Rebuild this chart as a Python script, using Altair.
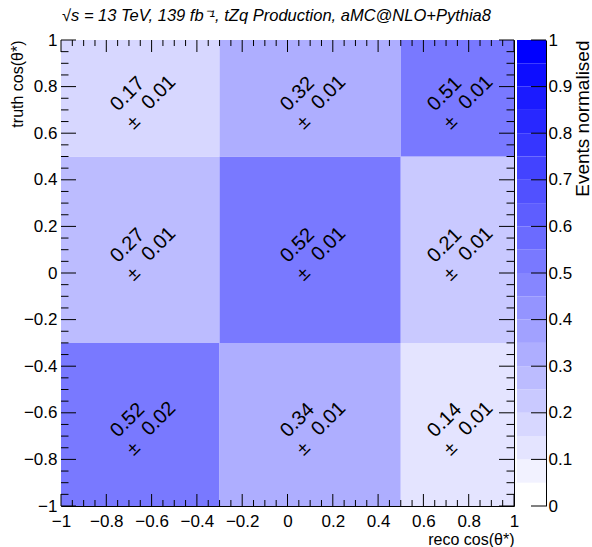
import altair as alt
import pandas as pd
import numpy as np

# ---------------- data ----------------
reco_edges = [-1.0, -0.3, 0.5, 1.0]
truth_edges = [-1.0, -0.3, 0.5, 1.0]
# rows: truth bins (bottom -> top), columns: reco bins (left -> right)
values = [
    [0.52, 0.34, 0.14],
    [0.27, 0.52, 0.21],
    [0.17, 0.32, 0.51],
]
errors = [
    [0.02, 0.01, 0.01],
    [0.01, 0.01, 0.01],
    [0.01, 0.01, 0.01],
]
major_ticks = [-1, -0.8, -0.6, -0.4, -0.2, 0, 0.2, 0.4, 0.6, 0.8, 1]
minor_ticks = [round(v, 2) for v in np.arange(-1, 1.0001, 0.05)
               if round(v, 2) not in [round(m, 2) for m in major_ticks]]
cbar_ticks = [0, 0.1, 0.2, 0.3, 0.4, 0.5, 0.6, 0.7, 0.8, 0.9, 1]
n_levels = 20
cbar_lo = [round(i / n_levels, 2) for i in range(n_levels)]
cbar_hi = [round((i + 1) / n_levels, 2) for i in range(n_levels)]

title_text = "√s = 13 TeV, 139 fb⁻¹, tZq Production, aMC@NLO+Pythia8"
x_title = "reco cos(θ*)"
y_title = "truth cos(θ*)"
z_title = "Events normalised"

# ---------------- tables ----------------
rows = []
for i in range(3):
    for j in range(3):
        rows.append(dict(
            xlo=reco_edges[j], xhi=reco_edges[j + 1],
            ylo=truth_edges[i], yhi=truth_edges[i + 1],
            xc=(reco_edges[j] + reco_edges[j + 1]) / 2,
            yc=(truth_edges[i] + truth_edges[i + 1]) / 2,
            value=values[i][j], err=errors[i][j],
            vlabel=f"{values[i][j]:.2f}", elabel=f"{errors[i][j]:.2f}", pm="±",
        ))
cells = pd.DataFrame(rows)
major_df = pd.DataFrame({"t": major_ticks})
minor_df = pd.DataFrame({"t": minor_ticks})
cbar_df = pd.DataFrame({"lo": cbar_lo, "hi": cbar_hi,
                        "mid": [(a + b) / 2 for a, b in zip(cbar_lo, cbar_hi)]})
cbar_tick_df = pd.DataFrame({"t": cbar_ticks})
title_df = pd.DataFrame({"t": [title_text]})

# ---------------- style ----------------
FONT = "Liberation Sans"
W, H = 453, 466
CW = 29
palette = []
for i in range(n_levels):
    c = int(round(255 * (1 - i / (n_levels - 1))))
    palette.append(f"#{c:02x}{c:02x}ff")
thresholds = [round((i + 1) / n_levels, 2) for i in range(n_levels - 1)]
color_scale = alt.Scale(type="threshold", domain=thresholds, range=palette)

xscale = alt.Scale(domain=[-1, 1], nice=False, zero=False)
yscale = alt.Scale(domain=[-1, 1], nice=False, zero=False)
zscale = alt.Scale(domain=[0, 1], nice=False, zero=False)

common_axis = dict(values=major_ticks, format=".1~f", ticks=False, domain=False, grid=False,
                   labelFont=FONT, labelFontSize=17, labelColor="black",
                   labelOverlap=False, labelFlush=False, labelBound=False,
                   titleFont=FONT, titleFontSize=16, titleFontWeight="normal",
                   titleColor="black", titleAlign="right")
xaxis = alt.Axis(title=x_title, labelPadding=7, titleX=W, titleY=38,
                 titleBaseline="alphabetic", titleAngle=0, **common_axis)
yaxis = alt.Axis(title=y_title, labelPadding=4, titleX=-36, titleY=0,
                 titleBaseline="bottom", titleAngle=270, **common_axis)

X = lambda f: alt.X(f, scale=xscale, axis=xaxis)
Y = lambda f: alt.Y(f, scale=yscale, axis=yaxis)

rects = alt.Chart(cells).mark_rect(strokeWidth=0).encode(
    x=X("xlo:Q"), x2="xhi:Q", y=Y("ylo:Q"), y2="yhi:Q",
    color=alt.Color("value:Q", scale=color_scale, legend=None),
)

def txt(field, dx, dy, size):
    return alt.Chart(cells).mark_text(
        angle=315, align="center", baseline="middle", dx=dx, dy=dy,
        font=FONT, fontSize=size, color="black",
    ).encode(x=X("xc:Q"), y=Y("yc:Q"), text=f"{field}:N")

t_val = txt("vlabel", -6, -12, 20)
t_pm = txt("pm", -22, 12, 19)
t_err = txt("elabel", 17, 9, 20)

def xrule(df, y0, y1):
    return alt.Chart(df).mark_rule(color="black", strokeWidth=1).encode(
        x=X("t:Q"), y=alt.value(y0), y2=alt.value(y1))

def yrule(df, x0, x1):
    return alt.Chart(df).mark_rule(color="black", strokeWidth=1).encode(
        y=Y("t:Q"), x=alt.value(x0), x2=alt.value(x1))

ticks = [
    xrule(major_df, H, H - 12), xrule(minor_df, H, H - 6),
    xrule(major_df, 0, 12), xrule(minor_df, 0, 6),
    yrule(major_df, 0, 15), yrule(minor_df, 0, 7.5),
    yrule(major_df, W, W - 15), yrule(minor_df, W, W - 7.5),
]

title_mark = alt.Chart(title_df).mark_text(
    align="left", baseline="alphabetic", font=FONT, fontSize=16.5, fontStyle="italic",
    color="black",
).encode(x=alt.value(1), y=alt.value(-19), text="t:N")

main = alt.layer(rects, t_val, t_pm, t_err, *ticks, title_mark).properties(
    width=W, height=H,
    view=alt.ViewBackground(stroke="black", strokeWidth=1),
)

zaxis = alt.Axis(orient="right", values=cbar_ticks, format=".1~f", ticks=False,
                 domain=True, domainColor="black", domainWidth=1, grid=False,
                 labelFont=FONT, labelFontSize=17, labelColor="black", labelPadding=2,
                 labelOverlap=False, labelFlush=False, labelBound=False,
                 title=z_title, titleFont=FONT, titleFontSize=19, titleFontWeight="normal",
                 titleColor="black", titleAngle=270, titleAlign="right",
                 titleBaseline="top", titleX=27, titleY=0)

cbar_rect = alt.Chart(cbar_df).mark_rect(strokeWidth=0).encode(
    x=alt.value(0), x2=alt.value(CW),
    y=alt.Y("lo:Q", scale=zscale, axis=zaxis), y2="hi:Q",
    color=alt.Color("mid:Q", scale=color_scale, legend=None),
)
cbar_ticks_rule = alt.Chart(cbar_tick_df).mark_rule(color="black", strokeWidth=1).encode(
    y=alt.Y("t:Q", scale=zscale, axis=zaxis), x=alt.value(CW - 15), x2=alt.value(CW))

cbar = alt.layer(cbar_rect, cbar_ticks_rule).properties(
    width=CW, height=H, view=alt.ViewBackground(strokeOpacity=0))

chart = alt.hconcat(main, cbar, spacing=3, bounds="flush").properties(
    padding={"left": 8, "top": 7, "right": 0, "bottom": 0},
    background="white",
)

chart.save("out.html", embed_options={"renderer": "svg", "actions": False})
